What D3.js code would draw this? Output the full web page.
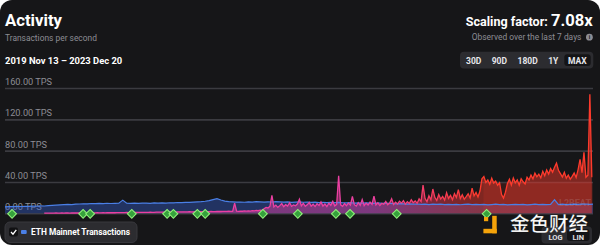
<!DOCTYPE html>
<html><head><meta charset="utf-8">
<script src="https://cdn.jsdelivr.net/npm/d3@7"></script>
<style>
html,body{margin:0;padding:0;background:#fff;}
svg{display:block;font-family:Roboto,"Noto Sans",sans-serif;}
</style></head><body>
<svg id="c" width="600" height="245"></svg>
<script>
const startDate = "2019-11-13";
const endDate = "2023-12-20";
const yTicks = [0, 40, 80, 120, 160];
const ethStepDays = 10;
const ethValues = [8.3,8.6,8.4,8.9,8.7,9.0,8.8,9.2,9.0,9.4,
 9.3,9.8,10.1,10.4,10.8,11.0,11.3,11.1,11.6,11.9,
 12.2,12.0,12.5,12.3,12.6,12.4,12.8,12.5,12.7,12.9,
 16.8,12.8,12.6,13.0,12.7,12.9,13.1,12.8,13.2,13.0,
 13.3,13.1,13.5,13.4,13.8,13.6,14.0,13.9,14.3,14.5,
 14.8,15.4,16.2,17.5,18.8,17.0,15.6,15.0,14.6,14.2,
 14.4,14.1,14.6,14.3,14.8,14.5,14.2,14.7,14.4,14.9,
 14.6,14.2,14.5,14.0,14.3,14.6,14.1,14.4,13.9,14.2,
 13.8,14.1,13.7,14.0,13.6,13.9,13.5,13.2,13.6,13.0,
 13.3,12.9,13.4,13.1,12.8,13.2,12.7,13.0,12.6,12.3,
 12.0,12.4,11.8,12.1,11.6,11.9,11.4,11.8,11.2,11.6,
 11.3,11.7,11.1,11.5,11.0,11.4,10.9,11.3,11.6,11.2,
 11.5,11.0,11.4,10.8,11.2,11.6,11.1,11.4,10.7,11.2,
 11.5,11.0,11.3,10.8,11.2,11.6,11.1,11.4,11.0,11.3,
 17.5,11.2,11.6,11.0,11.4,11.8,11.3,11.6,11.9,11.4,11.7];
const l2StartDay = 100;
const l2StepDays = 5;
const l2Values = [0.2,0.3,0.2,0.3,0.3,0.2,0.4,0.3,0.3,0.4,0.3,0.4,0.4,0.3,0.5,0.4,0.4,0.5,0.4,0.5,
 0.5,0.4,0.6,0.5,0.5,0.6,0.5,0.7,0.6,0.6,0.7,0.6,0.8,0.7,0.7,0.8,0.7,0.9,0.8,0.8,
 0.9,0.8,1.0,0.9,0.9,1.1,1.0,1.0,1.2,1.1,1.1,1.3,1.2,1.2,1.4,1.3,1.3,1.5,1.4,1.4,
 1.5,1.4,1.6,1.5,1.5,1.7,1.6,1.6,1.8,1.7,1.7,1.9,1.8,1.8,2.0,1.9,1.9,2.1,2.0,2.0,
 2.1,2.0,2.2,2.1,2.1,2.3,2.2,2.2,2.4,2.3,2.3,2.5,2.4,2.4,2.6,2.5,2.5,
 13.0,
 2.6,2.4,2.8,2.6,3.0,2.7,3.2,2.9,3.4,3.1,3.6,3.3,4.0,3.8,
 5.8,7.5,6.8,9.0,23.0,8.2,10.5,7.6,9.8,12.4,8.5,11.0,9.2,13.5,8.8,10.6,
 9.6,11.8,18.0,9.4,12.6,8.9,10.8,13.9,9.1,11.5,8.6,12.2,10.0,14.6,9.3,11.9,8.7,12.8,10.2,15.2,9.5,11.4,
 48.0,
 10.8,8.9,12.5,9.7,13.2,10.4,21.5,11.0,9.2,13.6,10.1,17.5,9.8,12.9,10.6,14.2,11.3,21.8,10.7,13.4,9.9,12.7,11.5,15.0,10.8,13.1,18.6,11.2,14.3,12.0,15.5,
 13.0,16.2,11.8,14.9,12.6,17.3,13.5,15.8,12.9,18.4,15.0,36.0,19.2,14.8,22.5,17.1,31.0,20.4,16.3,24.0,18.2,21.5,16.9,26.3,19.0,22.8,17.4,25.1,20.3,30.2,18.8,23.6,17.9,21.2,24.9,19.5,32.0,22.3,26.7,20.8,
 28.5,44.0,47.0,39.5,42.5,37.0,44.8,38.6,41.2,35.8,39.0,24.0,19.5,27.0,38.2,43.5,36.1,45.2,39.0,42.7,35.9,44.1,40.3,37.6,46.0,
 42.5,48.8,44.0,51.2,46.5,49.9,45.3,53.6,48.1,55.4,50.2,57.0,52.5,58.8,64.0,55.0,
 50.6,46.2,52.3,44.8,48.9,43.5,47.2,51.4,45.6,55.8,69.0,52.0,78.0,46.0,48.5,152.0,46.0];
const bandStartDate = "2023-03-16";
const bandValue = 39;
const milestoneDates = ["2019-12-01","2020-05-30","2020-06-17","2020-10-01","2020-12-30","2021-01-15",
 "2021-03-17","2021-04-06","2021-08-31","2021-11-28","2022-03-05","2022-04-10","2022-08-07","2023-03-24"];
const rangeLabels = ["30D","90D","180D","1Y","MAX"];
const scaleLabels = ["LOG","LIN"];

const svg = d3.select("#c");
const t0 = new Date(startDate);
const dayToDate = d => new Date(+t0 + d * 864e5);
const ethData = ethValues.map((v, i) => ({date: dayToDate(i * ethStepDays), v}));
const l2Data = l2Values.map((v, i) => ({date: dayToDate(l2StartDay + i * l2StepDays), v}));

const x = d3.scaleUtc().domain([t0, new Date(endDate)]).range([5, 593]);
const y = d3.scaleLinear().domain([0, 160]).range([213.3, 88]);

function fit(sel, w) {
  const n = sel.node(); const cw = n.getComputedTextLength();
  const fs = parseFloat(sel.attr("font-size"));
  if (cw > 0) sel.attr("font-size", fs * w / cw);
  return sel;
}

// card
svg.append("rect").attr("width", 600).attr("height", 245).attr("rx", 12).attr("fill", "#161618");

const defs = svg.append("defs");
defs.append("clipPath").attr("id", "plot").append("rect")
  .attr("x", 5).attr("y", 80).attr("width", 588).attr("height", 134);
const grad = defs.append("linearGradient").attr("id", "l2g").attr("gradientUnits", "userSpaceOnUse")
  .attr("x1", x(new Date("2022-06-01"))).attr("x2", x(new Date("2023-03-01"))).attr("y1", 0).attr("y2", 0);
grad.append("stop").attr("offset", 0).attr("stop-color", "#ec3fa2");
grad.append("stop").attr("offset", 1).attr("stop-color", "#ff3a2c");

// header
fit(svg.append("text").attr("x", 5).attr("y", 25.5).attr("font-size", 17).attr("font-weight", 700)
  .attr("fill", "#fff").text("Activity"), 57);
fit(svg.append("text").attr("x", 5).attr("y", 40.5).attr("font-size", 8.5)
  .attr("fill", "#8d8d94").text("Transactions per second"), 92);
fit(svg.append("text").attr("x", 5).attr("y", 64.3).attr("font-size", 10).attr("font-weight", 700)
  .attr("fill", "#fff").text("2019 Nov 13 – 2023 Dec 20"), 117.5);

const sf = svg.append("text").attr("x", 592.7).attr("y", 26).attr("text-anchor", "end")
  .attr("font-weight", 700).attr("fill", "#fff");
const sf1 = sf.append("tspan").attr("font-size", 14).text("Scaling factor: ");
const sf2 = sf.append("tspan").attr("font-size", 18.5).text("7.08x");
{
  const k = 127 / sf.node().getComputedTextLength();
  sf1.attr("font-size", 14 * k); sf2.attr("font-size", 18.5 * k);
}

fit(svg.append("text").attr("x", 471.7).attr("y", 40.3).attr("font-size", 8.5)
  .attr("fill", "#8d8d94").text("Observed over the last 7 days"), 110);
svg.append("circle").attr("cx", 589.4).attr("cy", 37.2).attr("r", 3.4).attr("fill", "#8d8d94");
svg.append("text").attr("x", 589.4).attr("y", 39.4).attr("text-anchor", "middle").attr("font-size", 5.5)
  .attr("font-weight", 700).attr("fill", "#161618").text("i");

// range buttons
svg.append("rect").attr("x", 460).attr("y", 51.7).attr("width", 133.3).attr("height", 16.8).attr("rx", 4).attr("fill", "#2c2c30");
svg.append("rect").attr("x", 564.3).attr("y", 54.3).attr("width", 26.4).attr("height", 11.8).attr("rx", 3).attr("fill", "#141416");
const btnCenters = [473.7, 499.3, 527.7, 553.3, 577.3];
svg.selectAll("text.rb").data(rangeLabels).join("text").attr("class", "rb")
  .attr("x", (d, i) => btnCenters[i]).attr("y", 63.6).attr("text-anchor", "middle")
  .attr("font-size", 8.5).attr("font-weight", 700).attr("fill", "#e6e6ea").text(d => d);

// grid + labels
const ax = svg.append("g").attr("transform", "translate(5,0)")
  .call(d3.axisRight(y).tickValues(yTicks).tickSize(588).tickFormat(d => d3.format(".2f")(d) + " TPS"));
ax.select(".domain").remove();
ax.selectAll("line").attr("stroke", "#3b3b40").attr("stroke-width", 1.6);
ax.selectAll("text").attr("x", 0).attr("dy", -3.6).attr("text-anchor", "start")
  .attr("fill", "#8d8d94").attr("font-size", 9.2).attr("font-family", "Roboto, sans-serif");

const plot = svg.append("g").attr("clip-path", "url(#plot)");

// ETH area
plot.append("path").datum(ethData)
  .attr("d", d3.area().x(d => x(d.date)).y0(y(0)).y1(d => y(d.v)))
  .attr("fill", "rgba(55,100,220,0.38)");
// L2 area
plot.append("path").datum(l2Data)
  .attr("d", d3.area().x(d => x(d.date)).y0(y(0)).y1(d => y(d.v)))
  .attr("fill", "url(#l2g)").attr("fill-opacity", 0.45);
// band
plot.append("rect").attr("x", x(new Date(bandStartDate))).attr("y", y(bandValue))
  .attr("width", x(new Date(endDate)) - x(new Date(bandStartDate))).attr("height", y(0) - y(bandValue))
  .attr("fill", "#ff3a2c").attr("fill-opacity", 0.13);
// lines
plot.append("path").datum(ethData)
  .attr("d", d3.line().x(d => x(d.date)).y(d => y(d.v)))
  .attr("fill", "none").attr("stroke", "#4a7fe6").attr("stroke-width", 1.2);
plot.append("path").datum(l2Data)
  .attr("d", d3.line().x(d => x(d.date)).y(d => y(d.v)))
  .attr("fill", "none").attr("stroke", "url(#l2g)").attr("stroke-width", 1.3);

// faint L2BEAT watermark
svg.append("text").attr("x", 575).attr("y", 206).attr("text-anchor", "middle").attr("font-size", 9)
  .attr("font-weight", 700).attr("fill", "rgba(210,210,220,0.18)").text("L2BEAT");

// milestones
svg.selectAll("rect.ms").data(milestoneDates).join("rect").attr("class", "ms")
  .attr("x", -3.1).attr("y", -3.1).attr("width", 6.2).attr("height", 6.2)
  .attr("transform", d => `translate(${x(new Date(d))},${y(0) + 0.5}) rotate(45)`)
  .attr("fill", "#36a23c").attr("stroke", "#8ff07a").attr("stroke-width", 1.1);

// legend
svg.append("rect").attr("x", 5).attr("y", 222).attr("width", 132).attr("height", 20.5).attr("rx", 5)
  .attr("fill", "#2c2c30").attr("stroke", "#38383d");
svg.append("rect").attr("x", 9).attr("y", 227.5).attr("width", 9).attr("height", 9).attr("rx", 2).attr("fill", "#111113");
svg.append("path").attr("d", "M11,232 L13,234.2 L16.3,229.8").attr("fill", "none").attr("stroke", "#fff").attr("stroke-width", 1.3);
svg.append("rect").attr("x", 21).attr("y", 230).attr("width", 5.7).attr("height", 4).attr("rx", 1).attr("fill", "#4a7fe6");
fit(svg.append("text").attr("x", 31).attr("y", 234.5).attr("font-size", 9.3).attr("font-weight", 700)
  .attr("fill", "#fff").text("ETH Mainnet Transactions"), 99);

// LOG / LIN switch
svg.append("rect").attr("x", 541.5).attr("y", 226.5).attr("width", 50.5).attr("height", 17).attr("rx", 4).attr("fill", "#2c2c30");
svg.append("rect").attr("x", 567).attr("y", 229).attr("width", 22.5).attr("height", 12).attr("rx", 3).attr("fill", "#141416");
svg.selectAll("text.sc").data(scaleLabels).join("text").attr("class", "sc")
  .attr("x", (d, i) => [555.5, 578.3][i]).attr("y", 240).attr("text-anchor", "middle")
  .attr("font-size", 7.5).attr("font-weight", 700).attr("fill", "#e0e0e4").text(d => d);

// 金色财经 watermark
const logo = svg.append("g").attr("fill", "#f5a30a");
logo.append("rect").attr("x", 484).attr("y", 217).attr("width", 4.2).attr("height", 4.2);
logo.append("rect").attr("x", 492.2).attr("y", 215.8).attr("width", 4.5).attr("height", 17.5);
logo.append("rect").attr("x", 483.4).attr("y", 228.8).attr("width", 13.3).attr("height", 4.5);
fit(svg.append("text").attr("x", 510).attr("y", 231).attr("font-size", 19).attr("font-weight", 500)
  .attr("font-family", "'Noto Sans CJK SC', sans-serif").attr("fill", "#fff")
  .attr("stroke", "rgba(0,0,0,0.25)").attr("stroke-width", 0.6).text("金色财经"), 78);
</script>
</body></html>
